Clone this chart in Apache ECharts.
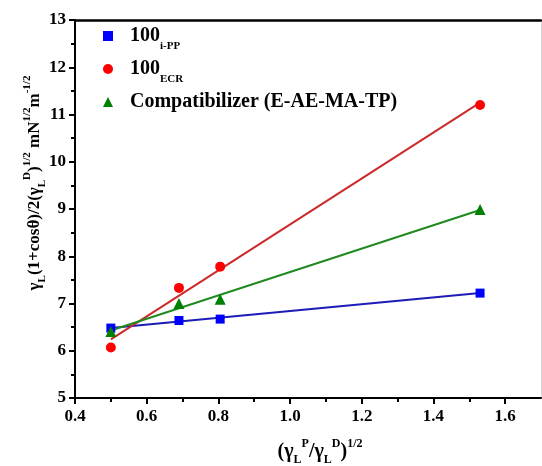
<!DOCTYPE html>
<html>
<head>
<meta charset="utf-8">
<script src="https://cdn.jsdelivr.net/npm/echarts@6/dist/echarts.min.js"></script>
<style>
  html, body { margin: 0; padding: 0; background: #fff; }
  #chart { width: 542px; height: 466px; }
</style>
</head>
<body>
<div id="chart"></div>
<script>
// Measured points: (γL^P/γL^D)^1/2 against γL(1+cosθ)/2(γL^D)^1/2
const xValues = [0.5, 0.69, 0.805, 1.53];
const ippValues = [6.48, 6.64, 6.67, 7.22];
const ecrValues = [6.07, 7.33, 7.78, 11.2];
const compValues = [6.41, 7.0, 7.09, 8.99];

// Least-squares lines, given by their end points
const fitX = [0.5, 1.53];
const ippFit = [6.48, 7.22];
const ecrFit = [6.24, 11.25];
const compFit = [6.43, 8.98];

// Axis ticks
const xMajorTicks = [0.4, 0.6, 0.8, 1.0, 1.2, 1.4, 1.6];
const xMinorTicks = [0.5, 0.7, 0.9, 1.1, 1.3, 1.5];

const seriesNames = ['100i-PP', '100ECR', 'Compatibilizer (E-AE-MA-TP)'];

const FONT = '"Liberation Serif", "DejaVu Serif", serif';

function pairs(xs, ys) {
  return xs.map((x, i) => [x, ys[i]]);
}

const chart = echarts.init(document.getElementById('chart'), null, { renderer: 'canvas' });

const sub = { fontFamily: FONT, fontWeight: 'bold', fontSize: 10, color: '#000', lineHeight: 8, verticalAlign: 'bottom' };
const sup = { fontFamily: FONT, fontWeight: 'bold', fontSize: 11, color: '#000', lineHeight: 8, verticalAlign: 'top' };
const base = { fontFamily: FONT, fontWeight: 'bold', fontSize: 17, color: '#000', lineHeight: 26 };

const legendLabels = {
  '100i-PP': '{b|100}{s|i-PP}',
  '100ECR': '{b|100}{s|ECR}',
  'Compatibilizer (E-AE-MA-TP)': '{b|Compatibilizer (E-AE-MA-TP)}'
};

const option = {
  backgroundColor: '#fff',
  animation: false,
  grid: { left: 75, top: 20, right: 1, bottom: 68, containLabel: false },
  legend: {
    orient: 'vertical',
    left: 98,
    top: 21,
    itemWidth: 10,
    itemHeight: 10,
    itemGap: 7,
    data: seriesNames,
    formatter: name => legendLabels[name],
    textStyle: {
      padding: [0, 0, 0, 12],
      rich: {
        b: Object.assign({}, base, { fontSize: 20, lineHeight: 32 }),
        s: Object.assign({}, sub, { fontSize: 11, lineHeight: 4 })
      }
    }
  },
  xAxis: [
    {
      type: 'value', position: 'bottom', min: 0.4, max: 1.7,
      axisLine: { show: true, onZero: false, lineStyle: { color: '#000', width: 2 } },
      axisTick: { show: true, inside: false, length: 6, customValues: xMajorTicks, lineStyle: { color: '#000', width: 2 } },
      axisLabel: {
        customValues: xMajorTicks, margin: 10,
        formatter: v => Number(v).toFixed(1),
        fontFamily: FONT, fontWeight: 'bold', fontSize: 17, color: '#000'
      },
      splitLine: { show: false }
    },
    {
      type: 'value', position: 'bottom', min: 0.4, max: 1.7,
      axisLine: { show: false, onZero: false },
      axisTick: { show: true, inside: false, length: 4, customValues: xMinorTicks, lineStyle: { color: '#000', width: 2 } },
      axisLabel: { show: false },
      splitLine: { show: false }
    },
    {
      type: 'value', position: 'top', min: 0.4, max: 1.7,
      axisLine: { show: true, onZero: false, lineStyle: { color: '#000', width: 2.5 } },
      axisTick: { show: false },
      axisLabel: { show: false },
      splitLine: { show: false }
    }
  ],
  yAxis: [
    {
      type: 'value', position: 'left', min: 5, max: 13, interval: 1,
      axisLine: { show: true, onZero: false, lineStyle: { color: '#000', width: 2 } },
      axisTick: { show: true, inside: false, length: 6, lineStyle: { color: '#000', width: 2 } },
      minorTick: { show: true, splitNumber: 2, length: 4, lineStyle: { color: '#000', width: 2 } },
      axisLabel: { margin: 9, fontFamily: FONT, fontWeight: 'bold', fontSize: 17, color: '#000' },
      splitLine: { show: false }
    },
    {
      type: 'value', position: 'right', min: 5, max: 13,
      axisLine: { show: true, onZero: false, lineStyle: { color: '#d8d8d8', width: 1 } },
      axisTick: { show: false },
      axisLabel: { show: false },
      splitLine: { show: false }
    }
  ],
  series: [
    {
      name: 'fit-ipp', type: 'line', data: pairs(fitX, ippFit), xAxisIndex: 0, yAxisIndex: 0,
      showSymbol: false, symbol: 'none', lineStyle: { color: '#1c1cb8', width: 2 }, z: 2
    },
    {
      name: 'fit-ecr', type: 'line', data: pairs(fitX, ecrFit), xAxisIndex: 0, yAxisIndex: 0,
      showSymbol: false, symbol: 'none', lineStyle: { color: '#cc2a2a', width: 2 }, z: 2
    },
    {
      name: 'fit-comp', type: 'line', data: pairs(fitX, compFit), xAxisIndex: 0, yAxisIndex: 0,
      showSymbol: false, symbol: 'none', lineStyle: { color: '#1f8a1f', width: 2 }, z: 2
    },
    {
      name: seriesNames[0], type: 'scatter', data: pairs(xValues, ippValues),
      symbol: 'rect', symbolSize: 9, itemStyle: { color: '#0000ff', opacity: 1 }, z: 3
    },
    {
      name: seriesNames[1], type: 'scatter', data: pairs(xValues, ecrValues),
      symbol: 'circle', symbolSize: 10, itemStyle: { color: '#ff0000', opacity: 1 }, z: 3
    },
    {
      name: seriesNames[2], type: 'scatter', data: pairs(xValues, compValues),
      symbol: 'triangle', symbolSize: 11, itemStyle: { color: '#008000', opacity: 1 }, z: 3
    }
  ],
  graphic: [
    {
      type: 'text', x: 35, y: 183, rotation: Math.PI / 2,
      style: {
        text: '{b|γ}{s|L}{b|(1+cosθ)/2(γ}{s|L}{p|D}{b|)}{p|1/2}{b| mN}{p|1/2}{b|m}{p|-1/2}',
        align: 'center', verticalAlign: 'middle',
        rich: {
          b: Object.assign({}, base, { fontSize: 17, lineHeight: 26 }),
          s: Object.assign({}, sub, { fontSize: 11, lineHeight: 8 }),
          p: Object.assign({}, sup, { fontSize: 11, lineHeight: 8 })
        }
      }
    },
    {
      type: 'text', x: 320, y: 452,
      style: {
        text: '{b|(γ}{s|L}{p|P}{b|/γ}{s|L}{p|D}{b|)}{p|1/2}',
        align: 'center', verticalAlign: 'middle',
        rich: {
          b: Object.assign({}, base, { fontSize: 20, lineHeight: 28 }),
          s: Object.assign({}, sub, { fontSize: 12, lineHeight: 8 }),
          p: Object.assign({}, sup, { fontSize: 12, lineHeight: 8 })
        }
      }
    }
  ]
};

chart.setOption(option);
</script>
</body>
</html>
